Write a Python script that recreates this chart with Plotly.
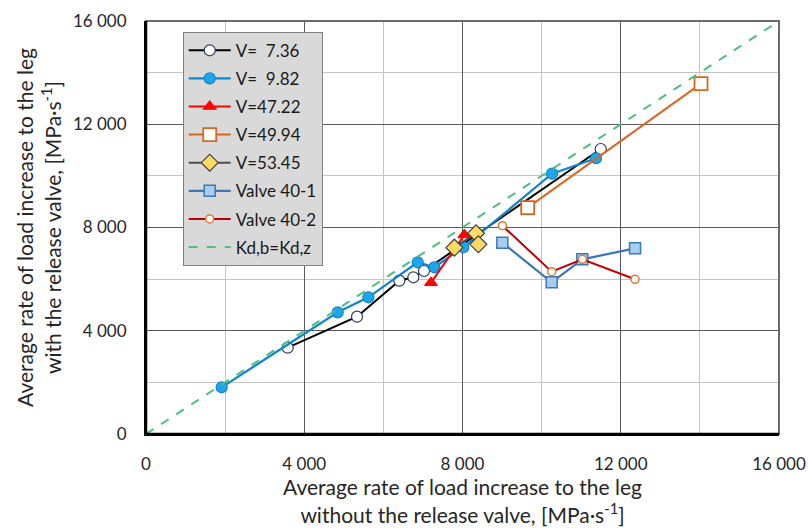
import plotly.graph_objects as go

# ---- data ----
v736_x = [3582, 5334, 6403, 6757, 7027, 11494]
v736_y = [3344, 4545, 5940, 6071, 6315, 11042]

v982_x = [1913, 4845, 5620, 6867, 7288, 8021, 10263, 11375]
v982_y = [1809, 4714, 5296, 6652, 6459, 7233, 10085, 10682]

v4722_x = [7204, 8046]
v4722_y = [5863, 7710]

v4994_x = [9648, 14029]
v4994_y = [8769, 13573]

v5345_x = [7794, 8342, 8401]
v5345_y = [7219, 7776, 7349]

valve401_x = [9007, 10255, 11029, 12361]
valve401_y = [7413, 5877, 6768, 7194]

valve402_x = [9007, 10255, 11029, 12361]
valve402_y = [8071, 6289, 6768, 5994]

kd_x = [0, 16000]
kd_y = [0, 16000]

names = ["V=\u00a0\u00a07.36", "V=\u00a0\u00a09.82", "V=47.22", "V=49.94", "V=53.45",
         "Valve 40-1", "Valve 40-2", "Kd,b=Kd,z"]

FONT = "Lato"

fig = go.Figure()

def add(x, y, name, lcolor, lwidth, symbol, msize, mfill, mline, mlw=1.2, dash=None, mode="lines+markers"):
    fig.add_trace(go.Scatter(
        x=x, y=y, name=name, mode=mode, legendgroup=name,
        line=dict(color=lcolor, width=lwidth, dash=dash),
        marker=dict(symbol=symbol, size=msize, color=mfill, line=dict(color=mline, width=mlw)),
    ))

add(v736_x, v736_y, names[0], "#000000", 2, "circle", 11, "#ffffff", "#2f3a5c")
add(v982_x, v982_y, names[1], "#1284cf", 2.2, "circle", 11, "#1ea7e8", "#1284cf")
add(v4722_x, v4722_y, names[2], "#ff0000", 2, "triangle-up", 11, "#ff0000", "#ff0000")
add(v4994_x, v4994_y, names[3], "#d9661f", 2, "square", 13, "#ffffff", "#d9661f", 1.8)
add(v5345_x, v5345_y, names[4], "#4d4d4d", 2, "diamond", 13, "#ffd966", "#404040")
add(valve401_x, valve401_y, names[5], "#3b78b8", 2.2, "square", 11, "#a9cdee", "#3b78b8", 1.5)
add(valve402_x, valve402_y, names[6], "#c00000", 2, "circle", 8, "#ffffff", "#e07a30", 1.5)
fig.add_trace(go.Scatter(x=kd_x, y=kd_y, name=names[7], mode="lines", legendgroup=names[7],
                         line=dict(color="#4cbf7f", width=2, dash="dash")))

axis_common = dict(
    range=[0, 16000], dtick=4000, tick0=0,
    showgrid=True, gridcolor="#5a5a5a", gridwidth=1.3,
    minor=dict(dtick=2000, showgrid=True, gridcolor="#c4c4c4", gridwidth=1),
    zeroline=False, showline=True, linecolor="#000000", linewidth=2,
    ticks="", tickformat=",d", automargin=False,
    tickfont=dict(family=FONT, size=17, color="#262626"),
    fixedrange=True,
)

fig.update_layout(
    width=808, height=529,
    margin=dict(l=146, r=29, t=21, b=95),
    paper_bgcolor="#ffffff", plot_bgcolor="#ffffff",
    separators=". ",
    font=dict(family=FONT, color="#262626"),
    xaxis=dict(**axis_common, ticklabelstandoff=14,
               title=dict(text="Average rate of load increase to the leg<br>without the release valve, [MPa·s<sup>-1</sup>]",
                          font=dict(family=FONT, size=21, color="#262626"), standoff=7)),
    yaxis=dict(**axis_common, ticklabelstandoff=14,
               title=dict(text="Average rate of load increase to the leg<br>with the release valve, [MPa·s<sup>-1</sup>]",
                          font=dict(family=FONT, size=21, color="#262626"), standoff=6)),
    legend=dict(x=0.058, y=0.974, xanchor="left", yanchor="top",
                bgcolor="#d9d9d9", bordercolor="#7f7f7f", borderwidth=1,
                font=dict(family=FONT, size=17, color="#1a1a1a"),
                tracegroupgap=3, itemwidth=42),
    showlegend=True,
)

fig.add_shape(type="rect", xref="paper", yref="paper", x0=0, y0=0, x1=1, y1=1,
              line=dict(color="#6b6b6b", width=2), layer="above")
fig.add_shape(type="line", xref="paper", yref="paper", x0=0, y0=0, x1=0, y1=1,
              line=dict(color="#000000", width=2.5), layer="above")
fig.add_shape(type="line", xref="paper", yref="paper", x0=0, y0=0, x1=1, y1=0,
              line=dict(color="#000000", width=2.5), layer="above")

# remove the default page margin so the 808x529 figure fills the window exactly
fig.write_html("out.html",
               config={"displayModeBar": False},
               post_script="document.body.style.margin='0px';document.body.style.overflow='hidden';")
